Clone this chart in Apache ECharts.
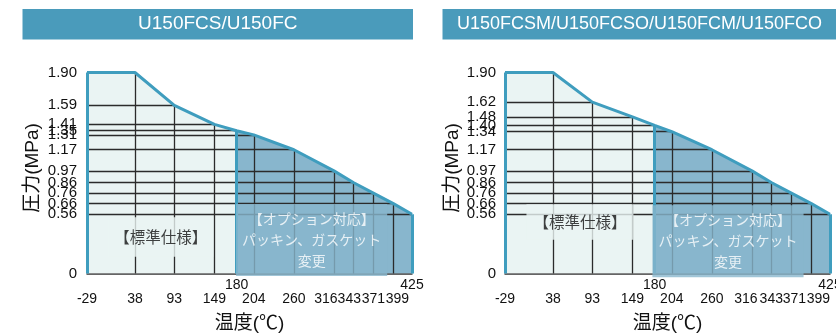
<!DOCTYPE html>
<html><head><meta charset="utf-8">
<script src="https://cdn.jsdelivr.net/npm/echarts@6/dist/echarts.min.js"></script>
<style>html,body{margin:0;padding:0;background:#fff}#c{width:836px;height:334px}</style>
</head><body><div id="c"></div>
<script>
// ---- data ----
const titles = ['U150FCS/U150FC', 'U150FCSM/U150FCSO/U150FCM/U150FCO'];
const temps = [-29, 38, 93, 149, 180, 204, 260, 316, 343, 371, 399, 425];
const pressA = [1.90, 1.90, 1.59, 1.41, 1.35, 1.31, 1.17, 0.97, 0.86, 0.76, 0.66, 0.56];
const pressB = [1.90, 1.90, 1.62, 1.48, 1.40, 1.34, 1.17, 0.97, 0.86, 0.76, 0.66, 0.56];
const xTicksLow = [-29, 38, 93, 149, 204, 260, 316, 343, 371, 399];
const xTicksHigh = [180, 425];
const yTicksA = [0, 0.56, 0.66, 0.76, 0.86, 0.97, 1.17, 1.31, 1.35, 1.41, 1.59, 1.90];
const yTicksB = [0, 0.56, 0.66, 0.76, 0.86, 0.97, 1.17, 1.34, 1.40, 1.48, 1.62, 1.90];
const splitTemp = 180;
const stdLabel = '【標準仕様】';
const optLabel = '【オプション対応】\nパッキン、ガスケット\n変更';
const xName = '温度(℃)';
const yName = '圧力(MPa)';

// ---- styles ----
const FONT = "'Liberation Sans', Arial, 'Noto Sans CJK JP', sans-serif";
const CJK = "'Noto Sans CJK JP', sans-serif";
const C_TITLE = '#4a9bbb', C_STD = '#eaf4f3', C_OPT = '#88b6cd', C_EDGE = '#3f9dbe', C_GRID = '#2b2b2b';
// small horizontal label nudges (px) so crowded tick labels sit side by side
const nudges = [{316: -8, 343: -4, 399: 4}, {316: -6, 371: 3, 399: 7}];

function richFor(nud) {
  const r = {};
  Object.keys(nud).forEach(k => {
    const d = nud[k];
    r['n' + k] = {fontSize: 14, fontFamily: FONT, color: '#111',
      padding: d < 0 ? [0, -2 * d, 0, 0] : [0, 0, 0, 2 * d]};
  });
  return r;
}

const grids = [], xAxes = [], yAxes = [], series = [];
const gridLefts = [87, 505];
const datasets = [[pressA, yTicksA], [pressB, yTicksB]];

datasets.forEach(([press, yTicks], g) => {
  grids.push({left: gridLefts[g], top: 72.5, width: 325, height: 201, containLabel: false, outerBoundsMode: 'none'});
  const nud = nudges[g];
  xAxes.push({
    gridIndex: g, type: 'value', min: temps[0], max: temps[temps.length - 1],
    axisLine: {show: true, onZero: false, lineStyle: {color: '#333', width: 1.5}},
    axisTick: {show: false}, splitLine: {show: false},
    axisLabel: {
      customValues: xTicksLow, margin: 19, fontSize: 14, color: '#111', fontFamily: FONT,
      hideOverlap: false, showMinLabel: true, showMaxLabel: true,
      formatter: v => nud[v] ? '{n' + v + '|' + v + '}' : String(v),
      rich: richFor(nud)
    },
    name: xName, nameLocation: 'middle', nameGap: 41,
    nameTextStyle: {fontSize: 19, color: '#111', fontFamily: FONT}
  });
  xAxes.push({
    gridIndex: g, type: 'value', min: temps[0], max: temps[temps.length - 1], position: 'bottom',
    axisLine: {show: false}, axisTick: {show: false}, splitLine: {show: false},
    axisLabel: {customValues: xTicksHigh, margin: 5, fontSize: 14, color: '#111', fontFamily: FONT,
      hideOverlap: false, showMinLabel: true, showMaxLabel: true}
  });
  yAxes.push({
    gridIndex: g, type: 'value', min: 0, max: 1.9,
    axisLine: {show: false}, axisTick: {show: false}, splitLine: {show: false},
    axisLabel: {customValues: yTicks, margin: g === 0 ? 10 : 9, fontSize: 15, color: '#111', fontFamily: FONT,
      hideOverlap: false, showMinLabel: true, showMaxLabel: true,
      formatter: v => v === 0 ? '0' : v.toFixed(2)},
    name: yName, nameLocation: 'middle', nameGap: g === 0 ? 45 : 43,
    nameTextStyle: {fontSize: 19, color: '#111', fontFamily: FONT, padding: [0, 0, 0, 10]}
  });

  const xi = g * 2, yi = g;
  const pts = temps.map((t, i) => [t, press[i]]);
  const si = temps.indexOf(splitTemp);
  const last = pts.length - 1;
  const top = press[0];

  // fills
  series.push({type: 'line', xAxisIndex: xi, yAxisIndex: yi, data: pts.slice(0, si + 1), symbol: 'none',
    lineStyle: {width: 0, opacity: 0}, areaStyle: {color: C_STD, opacity: 1}, z: 1, silent: true});
  series.push({type: 'line', xAxisIndex: xi, yAxisIndex: yi, data: pts.slice(si), symbol: 'none',
    lineStyle: {width: 0, opacity: 0}, areaStyle: {color: C_OPT, opacity: 1}, z: 1, silent: true});

  // grid lines derived from the curve points
  const hLines = pts.filter(p => p[1] < top).map(p => ({coords: [[temps[0], p[1]], p]}));
  const vLines = pts.filter(p => p[0] !== temps[0] && p[0] !== splitTemp && p[0] !== temps[last])
    .map(p => ({coords: [[p[0], 0], p]}));
  series.push({type: 'lines', coordinateSystem: 'cartesian2d', xAxisIndex: xi, yAxisIndex: yi,
    data: hLines.concat(vLines), lineStyle: {color: C_GRID, width: 1.3, opacity: 1}, z: 3, silent: true});

  // outline
  series.push({type: 'line', xAxisIndex: xi, yAxisIndex: yi, data: pts, symbol: 'none', clip: false,
    lineStyle: {color: C_EDGE, width: 3}, z: 6, silent: true});
  series.push({type: 'lines', coordinateSystem: 'cartesian2d', xAxisIndex: xi, yAxisIndex: yi,
    data: [{coords: [[temps[0], 0], pts[0]]}, {coords: [[splitTemp, 0], pts[si]]}, {coords: [[temps[last], 0], pts[last]]}],
    lineStyle: {color: C_EDGE, width: 3, opacity: 1}, z: 6, silent: true});

  // region labels
  const stdPos = g === 0 ? [74, 0.345] : [75.7, 0.486];
  const stdPad = g === 0 ? [12, 6] : [10, 7];
  series.push({type: 'scatter', xAxisIndex: xi, yAxisIndex: yi, data: [stdPos], symbolSize: 0, z: 10, silent: true,
    label: {show: true, position: 'inside', formatter: stdLabel, color: '#111', fontSize: 15.5, fontFamily: CJK,
      backgroundColor: C_STD, padding: stdPad}});
  const optPos = g === 0 ? [284.8, 0.317] : [282.5, 0.306];
  series.push({type: 'scatter', xAxisIndex: xi, yAxisIndex: yi, data: [optPos], symbolSize: 0, z: 10, silent: true,
    label: {show: true, position: 'inside', formatter: optLabel, color: '#fff', fontSize: 14, lineHeight: 21,
      align: 'center', fontFamily: CJK, backgroundColor: C_OPT, padding: [6, 6, 3, 6]}});
});

const chart = echarts.init(document.getElementById('c'), null, {renderer: 'canvas'});
chart.setOption({
  animation: false,
  grid: grids, xAxis: xAxes, yAxis: yAxes, series: series,
  graphic: [
    {type: 'rect', shape: {x: 22.5, y: 9, width: 390.5, height: 30.5}, style: {fill: C_TITLE},
      textContent: {style: {text: titles[0], fill: '#fff', font: '19px ' + FONT}}, textConfig: {position: 'inside'}},
    {type: 'rect', shape: {x: 442.5, y: 9, width: 394, height: 30.5}, style: {fill: C_TITLE},
      textContent: {style: {text: titles[1], fill: '#fff', font: '18px ' + FONT}}, textConfig: {position: 'inside'}}
  ]
});
</script>
</body></html>
